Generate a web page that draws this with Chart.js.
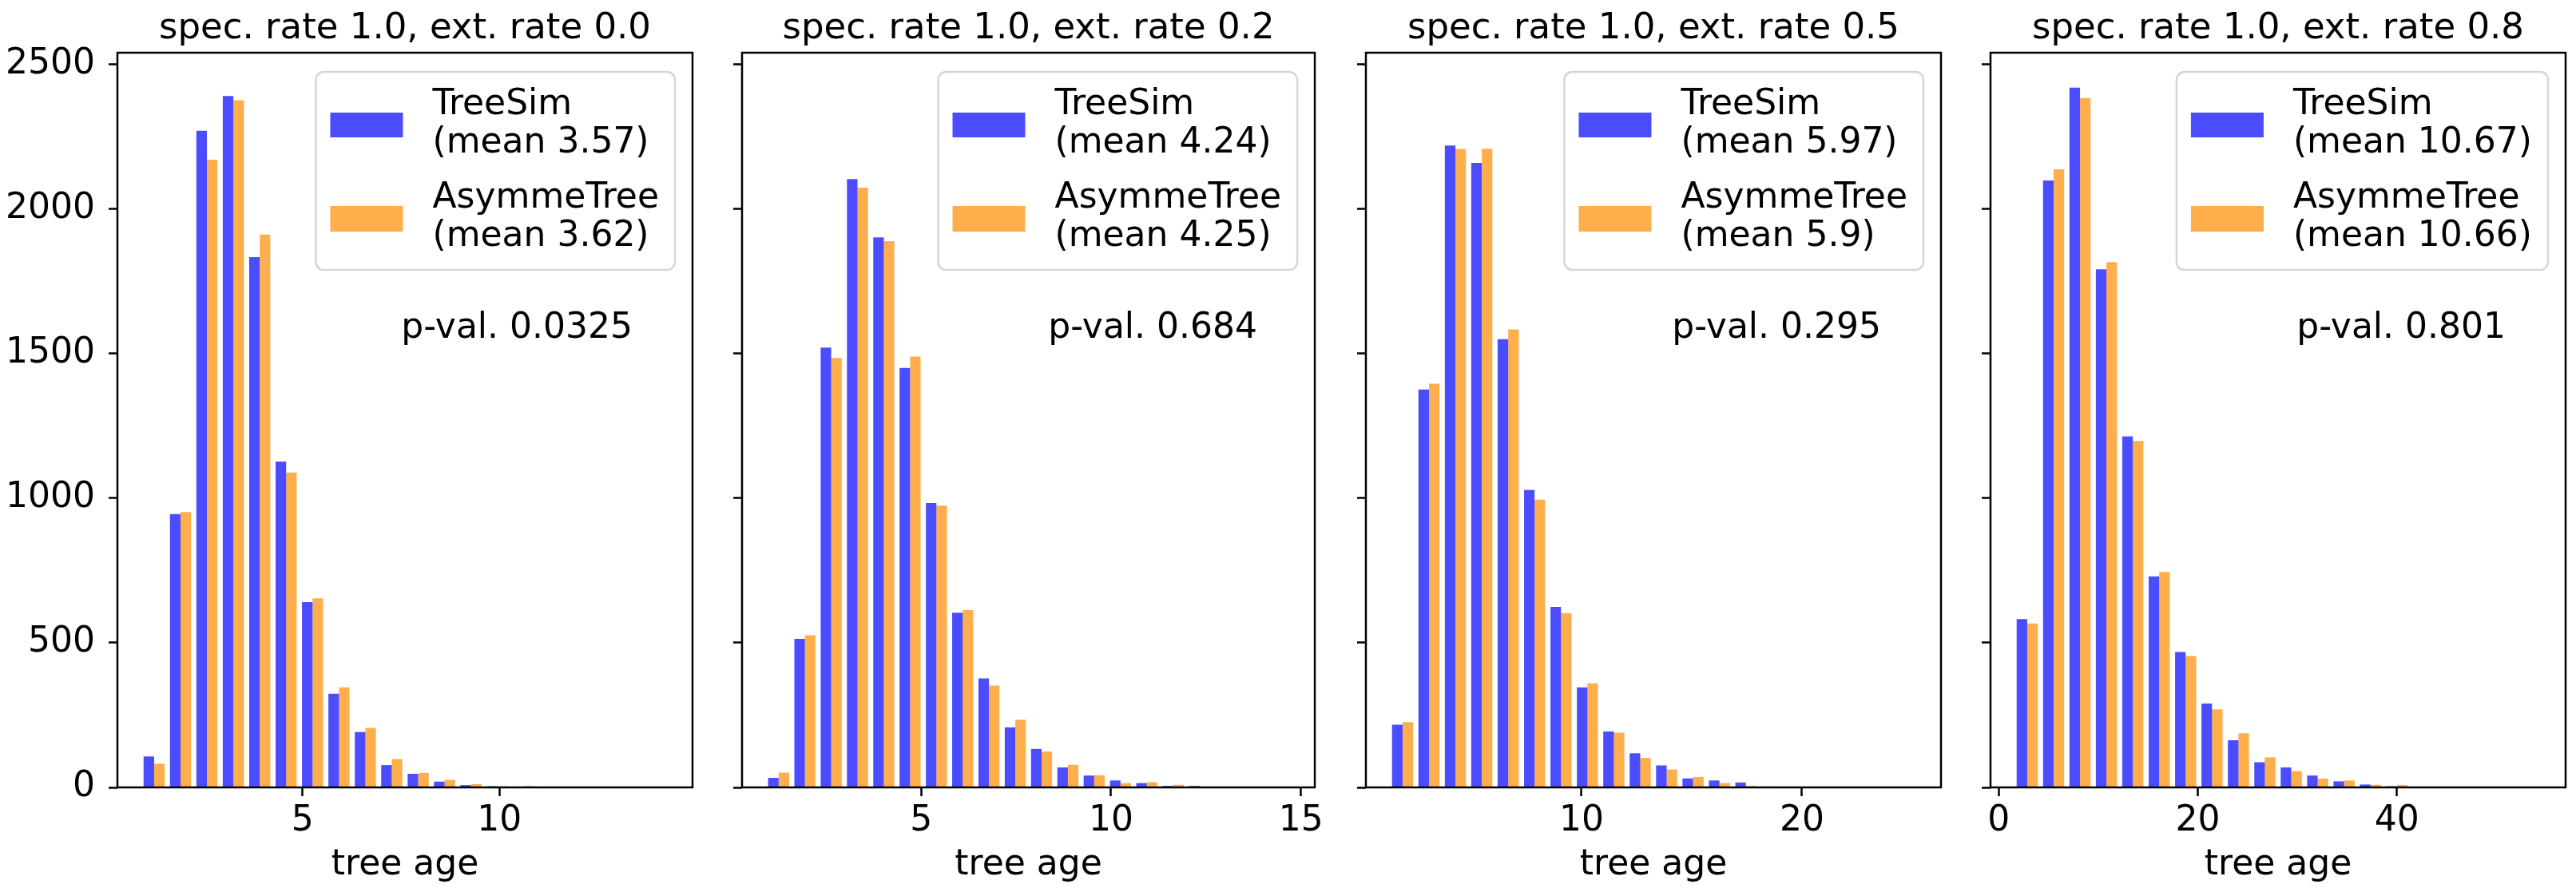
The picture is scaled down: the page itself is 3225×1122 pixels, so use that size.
<!DOCTYPE html>
<html>
<head>
<meta charset="utf-8">
<title>tree age histograms</title>
<script src="https://cdn.jsdelivr.net/npm/chart.js@4.4.1/dist/chart.umd.min.js"></script>
<style>
  html, body { margin: 0; padding: 0; background: #fff; }
  #wrap { position: relative; width: 3225px; height: 1122px; overflow: hidden; background: #fff; }
  #wrap canvas { position: absolute; top: 0; }
</style>
</head>
<body>
<div id="wrap"></div>
<script>
/* ------------------------------
   DATA
-------------------------------*/
const panelTitles = [
    "spec. rate 1.0, ext. rate 0.0",
    "spec. rate 1.0, ext. rate 0.2",
    "spec. rate 1.0, ext. rate 0.5",
    "spec. rate 1.0, ext. rate 0.8"
];
const treeSimMeans = ["3.57", "4.24", "5.97", "10.67"];
const asymmeTreeMeans = ["3.62", "4.25", "5.9", "10.66"];
const pValues = ["0.0325", "0.684", "0.295", "0.801"];

// histogram range [first edge, last edge], 20 bins each
const binRanges = [[0.897, 14.307], [0.903, 14.749], [1.285, 25.241], [1.548, 54.58]];

const xTicks = [[5, 10], [5, 10, 15], [10, 20], [0, 20, 40]];
const yTicks = [0, 500, 1000, 1500, 2000, 2500];
const yMax = 2541;

const treeSim00 = [107, 945, 2271, 2391, 1834, 1127, 641, 324, 191, 77, 47, 20, 8, 4, 1, 0, 0, 0, 0, 1];
const asymme00  = [82, 952, 2171, 2377, 1912, 1089, 654, 346, 206, 98, 50, 26, 11, 4, 5, 1, 0, 0, 0, 0];

const treeSim02 = [33, 514, 1521, 2104, 1902, 1451, 983, 604, 377, 208, 133, 69, 41, 24, 15, 5, 5, 0, 0, 0];
const asymme02  = [51, 526, 1485, 2074, 1889, 1490, 975, 613, 352, 234, 124, 78, 42, 15, 18, 9, 1, 0, 1, 1];

const treeSim05 = [217, 1376, 2220, 2160, 1550, 1029, 624, 346, 193, 118, 76, 31, 24, 17, 3, 0, 0, 2, 0, 1];
const asymme05  = [226, 1396, 2208, 2209, 1584, 995, 603, 360, 189, 102, 62, 36, 15, 5, 2, 1, 0, 0, 0, 0];

const treeSim08 = [582, 2099, 2420, 1792, 1214, 730, 468, 290, 163, 87, 69, 41, 21, 10, 4, 1, 1, 0, 0, 1];
const asymme08  = [567, 2138, 2384, 1817, 1198, 745, 454, 270, 187, 104, 56, 30, 24, 9, 8, 2, 0, 1, 0, 0];

const treeSimCounts = [treeSim00, treeSim02, treeSim05, treeSim08];
const asymmeCounts = [asymme00, asymme02, asymme05, asymme08];

/* ------------------------------
   STYLE / LAYOUT
-------------------------------*/
const BLUE = "rgba(0, 0, 255, 0.7)";
const ORANGE = "rgba(255, 140, 0, 0.7)";
const FONT = "'DejaVu Sans', sans-serif";

const AXES_LEFT = [147, 929, 1710, 2492];
const Y_AXIS_W = 147;
const AXES_W = 720;
const PAD_RIGHT = 13;
const AXES_TOP = 66;
const X_AXIS_H = 136;

Chart.defaults.font.family = FONT;
Chart.defaults.color = "#000";

// frame, title, legend and p-value text
function decoPlugin(i) {
    return {
        id: "deco" + i,
        afterDraw(chart) {
            const ctx = chart.ctx;
            const a = chart.chartArea;
            ctx.save();

            // axes frame
            ctx.strokeStyle = "#000";
            ctx.lineWidth = 2.5;
            ctx.strokeRect(a.left, a.top, a.right - a.left, a.bottom - a.top);

            // title
            ctx.fillStyle = "#000";
            ctx.font = "45px " + FONT;
            ctx.textAlign = "center";
            ctx.textBaseline = "alphabetic";
            ctx.fillText(panelTitles[i], (a.left + a.right) / 2, 48);

            // legend
            ctx.font = "44px " + FONT;
            const lines = ["TreeSim", "(mean " + treeSimMeans[i] + ")",
                           "AsymmeTree", "(mean " + asymmeTreeMeans[i] + ")"];
            const maxW = Math.max(...lines.map(t => ctx.measureText(t).width));
            const boxR = a.right - 22;
            const boxL = boxR - (maxW + 166);
            const boxT = a.top + 24;
            const boxH = 248;
            ctx.beginPath();
            ctx.roundRect(boxL, boxT, boxR - boxL, boxH, 10);
            ctx.fillStyle = "rgba(255,255,255,0.8)";
            ctx.fill();
            ctx.strokeStyle = "#d6d6d6";
            ctx.lineWidth = 2.5;
            ctx.stroke();

            ctx.fillStyle = BLUE;
            ctx.fillRect(boxL + 18, boxT + 51, 91, 31);
            ctx.fillStyle = ORANGE;
            ctx.fillRect(boxL + 18, boxT + 168, 91, 32);

            ctx.fillStyle = "#000";
            ctx.textAlign = "left";
            const tx = boxL + 146;
            ctx.fillText(lines[0], tx, boxT + 53);
            ctx.fillText(lines[1], tx, boxT + 101);
            ctx.fillText(lines[2], tx, boxT + 170);
            ctx.fillText(lines[3], tx, boxT + 218);

            // p-value
            ctx.textAlign = "right";
            ctx.fillText("p-val. " + pValues[i], a.left + 645, 423);

            ctx.restore();
        }
    };
}

function makePanel(i) {
    const canvas = document.createElement("canvas");
    canvas.width = Y_AXIS_W + AXES_W + PAD_RIGHT;
    canvas.height = 1122;
    canvas.style.left = (AXES_LEFT[i] - Y_AXIS_W) + "px";
    document.getElementById("wrap").appendChild(canvas);

    const [lo, hi] = binRanges[i];
    const n = treeSimCounts[i].length;
    const w = (hi - lo) / n;
    const centers = treeSimCounts[i].map((_, k) => lo + (k + 0.5) * w);

    // matplotlib style 5% margins around the bar extent
    const barLo = lo + 0.1 * w, barHi = hi - 0.1 * w;
    const xMin = barLo - 0.05 * (barHi - barLo);
    const xMax = barHi + 0.05 * (barHi - barLo);

    const tickGrid = {
        display: true,
        drawOnChartArea: false,
        drawTicks: true,
        tickLength: 11,
        tickColor: "#000",
        tickWidth: 2.5,
        offset: false
    };

    new Chart(canvas, {
        type: "bar",
        data: {
            datasets: [
                {
                    label: "TreeSim",
                    data: centers.map((x, k) => ({ x: x, y: treeSimCounts[i][k] })),
                    backgroundColor: BLUE,
                    borderWidth: 0,
                    categoryPercentage: 0.8,
                    barPercentage: 1.0
                },
                {
                    label: "AsymmeTree",
                    data: centers.map((x, k) => ({ x: x, y: asymmeCounts[i][k] })),
                    backgroundColor: ORANGE,
                    borderWidth: 0,
                    categoryPercentage: 0.8,
                    barPercentage: 1.0
                }
            ]
        },
        options: {
            responsive: false,
            animation: false,
            devicePixelRatio: 1,
            layout: { padding: { left: 0, right: PAD_RIGHT, top: AXES_TOP, bottom: 0 } },
            plugins: {
                legend: { display: false },
                title: { display: false },
                tooltip: { enabled: false }
            },
            scales: {
                x: {
                    type: "linear",
                    min: xMin,
                    max: xMax,
                    offset: false,
                    grid: tickGrid,
                    border: { display: false },
                    ticks: {
                        font: { size: 44 },
                        color: "#000",
                        padding: 5,
                        maxRotation: 0,
                        autoSkip: false,
                        callback: v => String(v)
                    },
                    title: {
                        display: true,
                        text: "tree age",
                        font: { size: 44 },
                        color: "#000",
                        padding: { top: 0, bottom: 12 }
                    },
                    afterBuildTicks: s => { s.ticks = xTicks[i].map(v => ({ value: v })); },
                    afterFit: s => { s.height = X_AXIS_H; }
                },
                y: {
                    type: "linear",
                    min: 0,
                    max: yMax,
                    grid: tickGrid,
                    border: { display: false },
                    ticks: {
                        display: i === 0,
                        font: { size: 44 },
                        color: "#000",
                        padding: 17,
                        callback: v => String(v)
                    },
                    afterBuildTicks: s => { s.ticks = yTicks.map(v => ({ value: v })); },
                    afterFit: s => { s.width = Y_AXIS_W; }
                }
            }
        },
        plugins: [decoPlugin(i)]
    });
}

for (let i = 0; i < 4; i++) makePanel(i);
</script>
</body>
</html>
